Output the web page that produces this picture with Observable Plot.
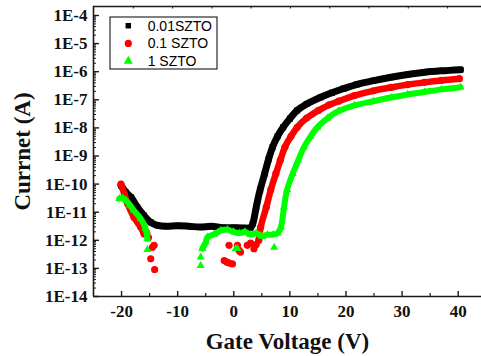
<!DOCTYPE html>
<html><head><meta charset="utf-8">
<script src="https://cdn.jsdelivr.net/npm/d3@7"></script>
<script src="https://cdn.jsdelivr.net/npm/@observablehq/plot@0.6"></script>
<style>body{margin:0;background:#fff}#chart{width:481px;height:356px}</style>
</head><body><div id="chart"></div>
<script>
// ---- series meta ----
const seriesNames = ["0.01SZTO", "0.1 SZTO", "1 SZTO"];
const seriesColors = ["#000000", "#ff0000", "#00ff00"];
const seriesSymbols = ["square", "circle", "triangle"];

// ---- data: gate voltage (V) and log10 of current (A) ----
// 0.01SZTO (dense, continuous)
const blackV = [-20.1,-19.2,-18.3,-17.2,-16,-14.8,-13.6,-12,-10,-8,-6,-4,-2,0,1.5,3,3.4,4,4.7,5.5,6.2,6.9,7.8,8.8,10,11.3,13,15.5,17.5,19.6,22,24.9,28,31,34,37,40.4];
const blackLogI = [-10.05,-10.3,-10.47,-10.82,-11.12,-11.36,-11.47,-11.5,-11.48,-11.5,-11.53,-11.5,-11.55,-11.55,-11.56,-11.55,-11.4,-10.82,-10.2,-9.63,-9.12,-8.69,-8.3,-7.98,-7.67,-7.38,-7.15,-6.91,-6.75,-6.6,-6.45,-6.32,-6.2,-6.1,-6.02,-5.97,-5.93];

// 0.1 SZTO
const redLeftV = [-20.1,-19.5,-18.9,-17.8,-16.6,-16];
const redLeftLogI = [-10.0,-10.35,-10.7,-11.18,-11.53,-11.77];
const redScatterV = [-15.5,-15.2,-14.2,-14.5,-14.8,-14.1,-0.84,-1.7,-1.2,-0.84,-0.24,0.65,0.94,1.2,2.4,3.0,3.6,4.0];
const redScatterLogI = [-11.75,-11.9,-12.18,-12.25,-12.66,-13.04,-12.18,-12.72,-12.78,-12.81,-12.84,-12.18,-12.36,-12.42,-12.18,-12.1,-12.3,-12.15];
const redOnV = [4.45,4.8,5.8,6.6,7.5,8.3,9.1,10.2,11.3,13,15.1,17,18.7,21.5,24.9,28,31,34,37,40.2];
const redOnLogI = [-12.0,-11.53,-10.82,-10.2,-9.63,-9.15,-8.69,-8.3,-7.98,-7.65,-7.38,-7.18,-7.05,-6.85,-6.68,-6.56,-6.46,-6.38,-6.31,-6.25];

// 1 SZTO
const greenLeftV = [-20.4,-19.8,-19.2,-18.5,-17.8,-16.6,-15.7,-15.4];
const greenLeftLogI = [-10.52,-10.5,-10.58,-10.75,-10.94,-11.23,-11.59,-11.95];
const greenScatterV = [-15.4,0.35,0.65,7.2,-5.9,-5.9];
const greenScatterLogI = [-12.33,-12.3,-12.3,-12.25,-12.9,-12.6];
const greenOnV = [-5.6,-5.0,-4.7,-3.5,-2.3,-1.1,0,1,2,3,4,5,6,7,7.8,8.4,8.95,9.5,10.5,11.5,12.5,13.7,14.9,16.7,18.7,21.5,24.9,28,31,34,37,40.4];
const greenOnLogI = [-12.3,-12.07,-11.89,-11.79,-11.65,-11.62,-11.7,-11.75,-11.7,-11.8,-11.75,-11.85,-11.8,-11.8,-11.75,-11.53,-10.82,-10.2,-9.63,-9.15,-8.69,-8.3,-7.98,-7.65,-7.4,-7.2,-7.05,-6.92,-6.81,-6.72,-6.63,-6.55];

// ---- axes ----
const xDomain = [-25, 44.15];
const yDomain = [1e-14, Math.pow(10, -3.68)];
const xTicks = [-20, -10, 0, 10, 20, 30, 40];
const xMinorTicks = [-15, -5, 5, 15, 25, 35];
const topTicks = [-17.9, -10.9, -3.9, 3.1, 10.1, 17.1, 24.1, 31.1, 38.1];
const yTickExps = [-14, -13, -12, -11, -10, -9, -8, -7, -6, -5, -4];
const yTickLabels = ["1E-14","1E-13","1E-12","1E-11","1E-10","1E-9","1E-8","1E-7","1E-6","1E-5","1E-4"];
const xLabel = "Gate Voltage (V)";
const yLabel = "Currnet (A)";

// ---- build tables ----
function rows(series, seg, V, L) { return V.map((v, i) => ({series, seg, V: v, I: Math.pow(10, L[i])})); }
const blackLine = rows(0, "b", blackV, blackLogI);
const redLines = [...rows(1, "rL", redLeftV, redLeftLogI), ...rows(1, "rO", redOnV, redOnLogI)];
const redDots = [...redLines, ...rows(1, "rS", redScatterV, redScatterLogI)];
const greenLines = [...rows(2, "gL", greenLeftV, greenLeftLogI), ...rows(2, "gO", greenOnV, greenOnLogI)];
const greenDots = [...greenLines, ...rows(2, "gS", greenScatterV, greenScatterLogI)];

const yMajor = yTickExps.map(e => Math.pow(10, e));
const yMinor = [];
for (const e of yTickExps.slice(0, -1)) for (let k = 2; k <= 9; k++) yMinor.push(k * Math.pow(10, e));

const W = 481, H = 356, mL = 93, mR = 0, mT = 6, mB = 60;
const pw = W - mL - mR, ph = H - mT - mB;
const axisCol = "#1a1a1a";
const serif = "'Liberation Serif', 'Times New Roman', serif";

const chart = Plot.plot({
  width: W, height: H,
  marginLeft: mL, marginRight: mR, marginTop: mT, marginBottom: mB,
  style: {background: "#fff", overflow: "visible"},
  x: {domain: xDomain, axis: null},
  y: {type: "log", domain: yDomain, axis: null},
  marks: [
    // series
    Plot.line(blackLine, {x: "V", y: "I", z: "seg", stroke: seriesColors[0], strokeWidth: 7, strokeLinejoin: "round", curve: "catmull-rom"}),
    Plot.dot(blackLine, {x: "V", y: "I", symbol: seriesSymbols[0], r: 3.4, fill: seriesColors[0]}),
    Plot.line(redLines, {x: "V", y: "I", z: "seg", stroke: seriesColors[1], strokeWidth: 6.5, strokeLinejoin: "round", strokeLinecap: "round", curve: "catmull-rom"}),
    Plot.dot(redDots, {x: "V", y: "I", symbol: seriesSymbols[1], r: 3.6, fill: seriesColors[1]}),
    Plot.line(greenLines, {x: "V", y: "I", z: "seg", stroke: seriesColors[2], strokeWidth: 6, strokeLinejoin: "round", curve: "catmull-rom"}),
    Plot.dot(greenDots, {x: "V", y: "I", symbol: seriesSymbols[2], r: 3.0, fill: seriesColors[2]}),
    // frame lines
    Plot.ruleX([xDomain[0]], {stroke: axisCol, strokeWidth: 1.6}),
    Plot.ruleY([yDomain[0]], {stroke: axisCol, strokeWidth: 1.6}),
    Plot.ruleY([yDomain[1]], {stroke: axisCol, strokeWidth: 1.3}),
    // ticks (inward)
    Plot.tickY(yMajor, {y: d => d, insetRight: pw - 6, stroke: axisCol, strokeWidth: 1.4}),
    Plot.tickY(yMinor, {y: d => d, insetRight: pw - 3, stroke: axisCol, strokeWidth: 1}),
    Plot.tickX(xTicks, {x: d => d, insetTop: ph - 5, stroke: axisCol, strokeWidth: 1.4}),
    Plot.tickX(xMinorTicks, {x: d => d, insetTop: ph - 3, stroke: axisCol, strokeWidth: 1.2}),
    Plot.tickX(topTicks, {x: d => d, insetBottom: ph - 2.5, stroke: axisCol, strokeWidth: 1}),
    // tick labels
    Plot.text(yMajor, {y: d => d, frameAnchor: "left", dx: -6, textAnchor: "end", lineAnchor: "middle",
      text: (d, i) => yTickLabels[i], fontSize: 17, fontWeight: "bold", fontFamily: serif, fill: "#111"}),
    Plot.text(xTicks, {x: d => d, frameAnchor: "bottom", dy: 15, lineAnchor: "middle", textAnchor: "middle",
      text: d => String(d), fontSize: 17, fontWeight: "bold", fontFamily: serif, fill: "#111"}),
    // axis titles
    Plot.text([xLabel], {frameAnchor: "bottom", dy: 45, lineAnchor: "middle", textAnchor: "middle", text: d => d,
      fontSize: 23, fontWeight: "bold", fontFamily: serif, fill: "#111"}),
    Plot.text([yLabel], {frameAnchor: "left", dx: -71, rotate: -90, textAnchor: "middle", lineAnchor: "middle", text: d => d,
      fontSize: 23, fontWeight: "bold", fontFamily: serif, fill: "#111"})
  ]
});

// ---- legend ----
const svg = d3.select(chart);
const lg = svg.append("g").attr("transform", "translate(110,17)").attr("text-anchor", "start");
lg.append("rect").attr("width", 107).attr("height", 52).attr("fill", "#fff").attr("stroke", "#000").attr("stroke-width", 1);
const symMap = {square: d3.symbolSquare, circle: d3.symbolCircle, triangle: d3.symbolTriangle};
const symR = [3.1, 3.6, 3.4];
seriesNames.forEach((name, i) => {
  const y = 8.7 + i * 17.7;
  lg.append("path").attr("transform", `translate(18.3,${y})`)
    .attr("d", d3.symbol(symMap[seriesSymbols[i]], symR[i] * symR[i] * Math.PI)())
    .attr("fill", seriesColors[i]);
  lg.append("text").attr("x", 37.7).attr("y", y).attr("dy", "0.36em").attr("text-anchor", "start")
    .attr("font-family", "'Liberation Sans', Arial, sans-serif").attr("font-size", 14).attr("fill", "#000")
    .text(name);
});

document.getElementById("chart").appendChild(chart);
</script>
</body></html>
